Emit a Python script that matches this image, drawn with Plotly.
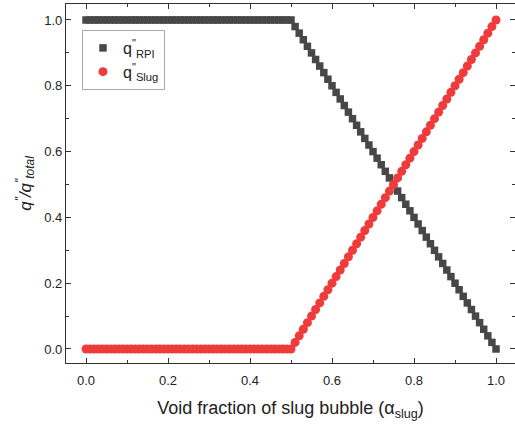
import plotly.graph_objects as go

alpha_slug = [0.00, 0.01, 0.02, 0.03, 0.04, 0.05, 0.06, 0.07, 0.08, 0.09,
              0.10, 0.11, 0.12, 0.13, 0.14, 0.15, 0.16, 0.17, 0.18, 0.19,
              0.20, 0.21, 0.22, 0.23, 0.24, 0.25, 0.26, 0.27, 0.28, 0.29,
              0.30, 0.31, 0.32, 0.33, 0.34, 0.35, 0.36, 0.37, 0.38, 0.39,
              0.40, 0.41, 0.42, 0.43, 0.44, 0.45, 0.46, 0.47, 0.48, 0.49,
              0.50, 0.51, 0.52, 0.53, 0.54, 0.55, 0.56, 0.57, 0.58, 0.59,
              0.60, 0.61, 0.62, 0.63, 0.64, 0.65, 0.66, 0.67, 0.68, 0.69,
              0.70, 0.71, 0.72, 0.73, 0.74, 0.75, 0.76, 0.77, 0.78, 0.79,
              0.80, 0.81, 0.82, 0.83, 0.84, 0.85, 0.86, 0.87, 0.88, 0.89,
              0.90, 0.91, 0.92, 0.93, 0.94, 0.95, 0.96, 0.97, 0.98, 0.99,
              1.00]

q_rpi = [1.00, 1.00, 1.00, 1.00, 1.00, 1.00, 1.00, 1.00, 1.00, 1.00,
         1.00, 1.00, 1.00, 1.00, 1.00, 1.00, 1.00, 1.00, 1.00, 1.00,
         1.00, 1.00, 1.00, 1.00, 1.00, 1.00, 1.00, 1.00, 1.00, 1.00,
         1.00, 1.00, 1.00, 1.00, 1.00, 1.00, 1.00, 1.00, 1.00, 1.00,
         1.00, 1.00, 1.00, 1.00, 1.00, 1.00, 1.00, 1.00, 1.00, 1.00,
         1.00, 0.98, 0.96, 0.94, 0.92, 0.90, 0.88, 0.86, 0.84, 0.82,
         0.80, 0.78, 0.76, 0.74, 0.72, 0.70, 0.68, 0.66, 0.64, 0.62,
         0.60, 0.58, 0.56, 0.54, 0.52, 0.50, 0.48, 0.46, 0.44, 0.42,
         0.40, 0.38, 0.36, 0.34, 0.32, 0.30, 0.28, 0.26, 0.24, 0.22,
         0.20, 0.18, 0.16, 0.14, 0.12, 0.10, 0.08, 0.06, 0.04, 0.02,
         0.00]

q_slug = [0.00, 0.00, 0.00, 0.00, 0.00, 0.00, 0.00, 0.00, 0.00, 0.00,
          0.00, 0.00, 0.00, 0.00, 0.00, 0.00, 0.00, 0.00, 0.00, 0.00,
          0.00, 0.00, 0.00, 0.00, 0.00, 0.00, 0.00, 0.00, 0.00, 0.00,
          0.00, 0.00, 0.00, 0.00, 0.00, 0.00, 0.00, 0.00, 0.00, 0.00,
          0.00, 0.00, 0.00, 0.00, 0.00, 0.00, 0.00, 0.00, 0.00, 0.00,
          0.00, 0.02, 0.04, 0.06, 0.08, 0.10, 0.12, 0.14, 0.16, 0.18,
          0.20, 0.22, 0.24, 0.26, 0.28, 0.30, 0.32, 0.34, 0.36, 0.38,
          0.40, 0.42, 0.44, 0.46, 0.48, 0.50, 0.52, 0.54, 0.56, 0.58,
          0.60, 0.62, 0.64, 0.66, 0.68, 0.70, 0.72, 0.74, 0.76, 0.78,
          0.80, 0.82, 0.84, 0.86, 0.88, 0.90, 0.92, 0.94, 0.96, 0.98,
          1.00]

tick_vals = [0.0, 0.2, 0.4, 0.6, 0.8, 1.0]
tick_text = ["0.0", "0.2", "0.4", "0.6", "0.8", "1.0"]

FONT = "Liberation Sans, Arial, sans-serif"

fig = go.Figure()
fig.add_trace(go.Scatter(
    x=alpha_slug, y=q_rpi, mode="markers",
    name='q<sup>"</sup><sub>RPI</sub>',
    marker=dict(symbol="square", size=7.5, color="#474747", line=dict(width=0)),
))
fig.add_trace(go.Scatter(
    x=alpha_slug, y=q_slug, mode="markers",
    name='q<sup>"</sup><sub>Slug</sub>',
    marker=dict(symbol="circle", size=9, color="#ef3b3b", line=dict(width=0)),
))

axis_common = dict(
    showline=True, linecolor="#333333", linewidth=1.2, mirror="ticks",
    ticks="inside", ticklen=5, tickwidth=1, tickcolor="#333333",
    tickvals=tick_vals, ticktext=tick_text,
    minor=dict(ticks="inside", ticklen=3, tickwidth=1, tickcolor="#333333", dtick=0.1, tick0=0),
    showgrid=False, zeroline=False, automargin=False,
    tickfont=dict(family=FONT, size=13, color="#222222"),
)

fig.update_layout(
    width=515, height=429,
    margin=dict(l=66, r=0, t=4, b=66),
    paper_bgcolor="white", plot_bgcolor="white",
    font=dict(family=FONT, color="#222222"),
    xaxis=dict(range=[-0.0488, 1.0463], ticklabelstandoff=5,
               title=dict(text="Void fraction of slug bubble (α<sub>slug</sub>)",
                          font=dict(family=FONT, size=18, color="#222222"), standoff=14),
               **axis_common),
    yaxis=dict(range=[-0.0426, 1.0486],
               title=dict(text='<i>q<sup>"</sup>/q<sup>"</sup><sub>total</sub></i>',
                          font=dict(family=FONT, size=17, color="#222222"), standoff=8),
               **axis_common),
    legend=dict(x=0.0356, y=0.9276, xanchor="left", yanchor="top",
                bordercolor="#aaaaaa", borderwidth=1, bgcolor="white",
                font=dict(family=FONT, size=16, color="#222222"),
                itemwidth=30, tracegroupgap=2),
    showlegend=True,
)

fig.write_html(
    "out.html",
    config={"displayModeBar": False},
    post_script="document.body.style.margin='0';document.body.style.padding='0';document.body.style.overflow='hidden';",
)
